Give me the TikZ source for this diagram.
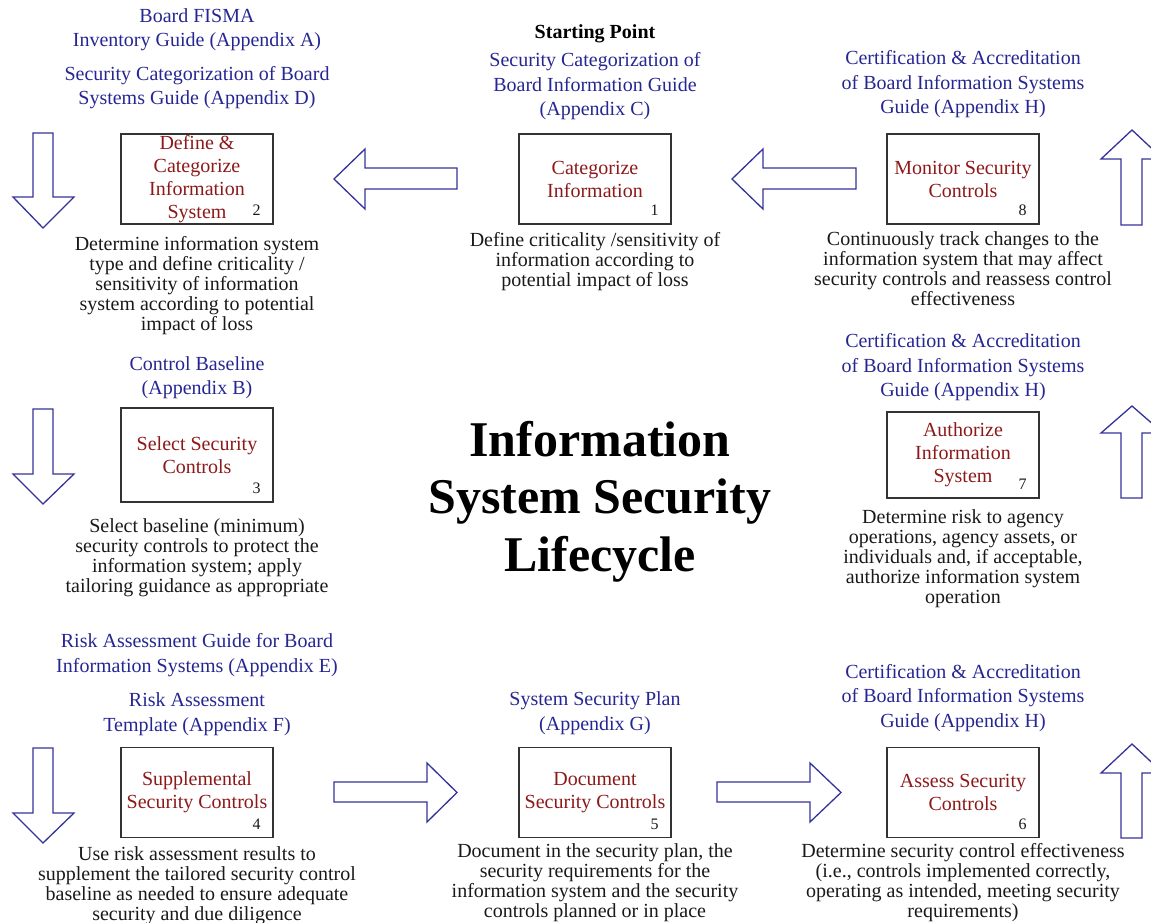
\documentclass[tikz,border=0pt]{standalone}
\usepackage{fontspec}
\setmainfont{Liberation Serif}
\usetikzlibrary{
    positioning
}
\tikzset{
    % Colors
    guide color/.style={blue!50!black!85!white},
    step color/.style={red!50!black!90!white},
    arrow color/.style={blue!50!black!80!white},
    note color/.style={black!90},
    %
    % Nodes
    guide/.style={guide color,align=center,inner sep=0pt,font=\fontsize{20}{24.5}\selectfont},
    step box/.style={step color,draw=black!80,line width=1.3pt,align=center,inner sep=0pt,
        minimum width=152pt,minimum height=90pt,font=\fontsize{20}{23}\selectfont},
    step number/.style={note color,inner sep=0pt,font=\fontsize{16}{16}\selectfont},
    description/.style={note color,align=center,inner sep=0pt,font=\fontsize{20}{20}\selectfont},
    title/.style={align=center,inner sep=0pt,font=\bfseries\fontsize{50}{57.5}\selectfont},
    %
    % Arrows
    block arrow/.style={arrow color,fill=white,line width=1.3pt,line join=miter}
}
\tikzstyle{every node}=[font=\fontsize{20}{20}\selectfont]

\begin{document}
\begin{tikzpicture}[x=1pt,y=-1pt]
    \useasboundingbox (0,0) rectangle (1151,923);
    \node[step box] (box1) at (595,179) {Categorize\\Information};
    \node[step box] (box2) at (197,179) {Define \&\\Categorize\\Information\\System};
    \node[step box,minimum height=94pt] (box3) at (197,455) {Select Security\\Controls};
    \node[step box] (box4) at (197,792.5) {Supplemental\\Security Controls};
    \node[step box] (box5) at (595,792.5) {Document\\Security Controls};
    \node[step box] (box6) at (963,792.5) {Assess Security\\Controls};
    \node[step box,minimum height=86pt] (box7) at (963,455) {Authorize\\Information\\System};
    \node[step box] (box8) at (963,179) {Monitor Security\\Controls};
    \foreach \n in {1,...,8}
        \node[step number] (num\n) at ([shift={(-17,-14)}]box\n.south east) {\n};

    \node[guide,above=13pt of box1] (guide1) {Security Categorization of\\Board Information Guide\\(Appendix C)};
    \node[inner sep=0pt,font=\bfseries\fontsize{20}{20}\selectfont,above=9pt of guide1] (start) {Starting Point};
    \node[guide,above=24pt of box2] (guide2) {Security Categorization of Board\\Systems Guide (Appendix D)};
    \node[guide,above=15pt of guide2] (guide2a) {Board FISMA\\Inventory Guide (Appendix A)};
    \node[guide,above=8pt of box3] (guide3) {Control Baseline\\(Appendix B)};
    \node[guide,above=11pt of box4] (guide4) {Risk Assessment\\Template (Appendix F)};
    \node[guide,above=16pt of guide4] (guide4a) {Risk Assessment Guide for Board\\Information Systems (Appendix E)};
    \node[guide,above=12pt of box5] (guide5) {System Security Plan\\(Appendix G)};
    \node[guide,above=15pt of box6] (guide6) {Certification \& Accreditation\\of Board Information Systems\\Guide (Appendix H)};
    \node[guide,above=10pt of box7] (guide7) {Certification \& Accreditation\\of Board Information Systems\\Guide (Appendix H)};
    \node[guide,above=15pt of box8] (guide8) {Certification \& Accreditation\\of Board Information Systems\\Guide (Appendix H)};

    \node[description,below=8pt of box1] (desc1) {Define criticality /sensitivity of\\information according to\\potential impact of loss};
    \node[description,below=12pt of box2] (desc2) {Determine information system\\type and define criticality /\\sensitivity of information\\system according to potential\\impact of loss};
    \node[description,below=16pt of box3] (desc3) {Select baseline (minimum)\\security controls to protect the\\information system; apply\\tailoring guidance as appropriate};
    \node[description,below=8pt of box4] (desc4) {Use risk assessment results to\\supplement the tailored security control\\baseline as needed to ensure adequate\\security and due diligence};
    \node[description,below=5pt of box5] (desc5) {Document in the security plan, the\\security requirements for the\\information system and the security\\controls planned or in place};
    \node[description,below=5pt of box6] (desc6) {Determine security control effectiveness\\(i.e., controls implemented correctly,\\operating as intended, meeting security\\requirements)};
    \node[description,below=11pt of box7] (desc7) {Determine risk to agency\\operations, agency assets, or\\individuals and, if acceptable,\\authorize information system\\operation};
    \node[description,below=7pt of box8] (desc8) {Continuously track changes to the\\information system that may affect\\security controls and reassess control\\effectiveness};

    \node[title,anchor=north] (title) at (600,421) {Information\\System Security\\Lifecycle};

    % block arrows between the steps
    \draw[block arrow] (856,168) -- (763,168) -- (763,149) -- (732,179) -- (763,209) -- (763,189) -- (856,189) -- cycle;
    \draw[block arrow] (457,168) -- (365,168) -- (365,149) -- (334,179) -- (365,209) -- (365,189) -- (457,189) -- cycle;
    \draw[block arrow] (33,133) -- (53,133) -- (53,197) -- (74,197) -- (43,228) -- (13,197) -- (33,197) -- cycle;
    \draw[block arrow] (33,409) -- (53,409) -- (53,474) -- (74,474) -- (43,504) -- (13,474) -- (33,474) -- cycle;
    \draw[block arrow] (33,748) -- (53,748) -- (53,813) -- (74,813) -- (43,843) -- (13,813) -- (33,813) -- cycle;
    \draw[block arrow] (334,782) -- (427,782) -- (427,763) -- (457,792.5) -- (427,822) -- (427,802) -- (334,802) -- cycle;
    \draw[block arrow] (717,782) -- (810,782) -- (810,763) -- (841,792.5) -- (810,822) -- (810,802) -- (717,802) -- cycle;
    \draw[block arrow] (1121,838) -- (1142,838) -- (1142,773) -- (1163,773) -- (1132,744) -- (1101,773) -- (1121,773) -- cycle;
    \draw[block arrow] (1121,498) -- (1142,498) -- (1142,433) -- (1163,433) -- (1132,406) -- (1101,433) -- (1121,433) -- cycle;
    \draw[block arrow] (1121,225) -- (1142,225) -- (1142,159) -- (1163,159) -- (1132,130) -- (1101,159) -- (1121,159) -- cycle;
\end{tikzpicture}
\end{document}
